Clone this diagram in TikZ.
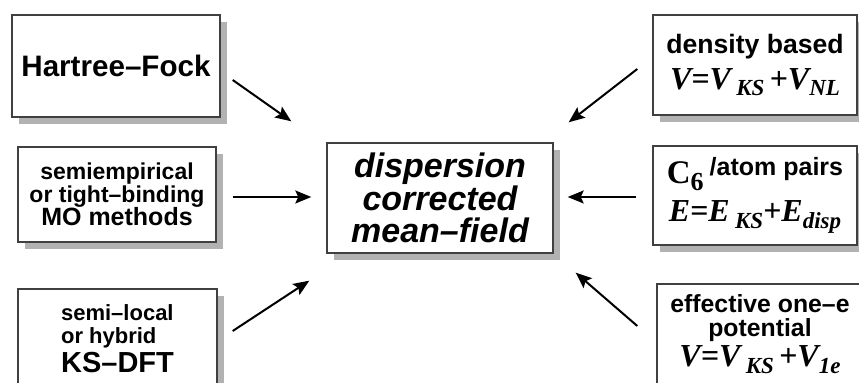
\documentclass[tikz,border=0pt]{standalone}
\usepackage{fontspec}
\setmainfont{Liberation Sans}
\newfontfamily\timesfont{Liberation Serif}
\usetikzlibrary{positioning,arrows.meta,shadows,calc}
\newcommand{\fsz}[2]{\fontsize{#1}{#2}\selectfont}
\newcommand{\lowsub}[1]{\raisebox{-0.45ex}{\fsz{11.5}{11.5}#1}}

\begin{document}
\begin{tikzpicture}[x=0.5pt, y=-0.5pt,
    box/.style={draw=black!75, line width=0.7pt, fill=white, align=center, inner sep=2pt,
      drop shadow={shadow xshift=3.5pt, shadow yshift=-3.5pt, fill=black!30, opacity=1}},
    arr/.style={line width=1pt, -{Stealth[length=8pt, width=6.5pt, inset=1.5pt]}}]
  \useasboundingbox (0,0) rectangle (859,383);
  % left column
  \node[box, minimum width=104pt, minimum height=51pt, font=\bfseries\fsz{14.8}{16}] (hf) at (116,66) {Hartree--Fock};
  \node[box, minimum width=99pt, minimum height=47.5pt, font=\bfseries\fsz{11.5}{11.5}] (semi) at (117,194.5)
    {semiempirical\\or tight--binding\\\fsz{12.5}{11.5}MO methods};
  \node[box, align=left, minimum width=99.5pt, minimum height=50pt, font=\bfseries\fsz{11}{11.5}] (ksdft) at (117.5,339)
    {semi--local\\or hybrid\\[1pt]\fsz{14.5}{12}KS--DFT};
  % centre
  \node[box, minimum width=113pt, minimum height=55pt, font=\bfseries\itshape\fsz{17}{16.2}] (centre) at (440,198)
    {dispersion\\corrected\\mean--field};
  % right column
  \node[box, minimum width=102pt, minimum height=50pt, font=\bfseries\fsz{13.3}{14}] (dens) at (755,65)
    {density based\\[4pt]\timesfont\itshape\fsz{16}{16}V=V\,\lowsub{KS}\,+V\lowsub{NL}};
  \node[box, minimum width=102pt, minimum height=49.5pt, font=\bfseries\fsz{13}{13}] (pair) at (755,195.5)
    {{\timesfont\fsz{16.5}{16}C\lowsub{\fsz{13}{13}6}}\kern3pt\raisebox{0.6ex}{\fsz{12.5}{12}/atom pairs}\\[4pt]\timesfont\itshape\fsz{16}{16}E=E\,\lowsub{KS}+E\lowsub{disp}};
  \node[box, minimum width=103pt, minimum height=50pt, font=\bfseries\fsz{12.4}{12.2}] (eff) at (760,334)
    {effective one--e\\potential\\[1pt]\timesfont\itshape\fsz{16}{15}V=V\,\lowsub{KS}\,+V\lowsub{1e}};
  % arrows
  \draw[arr] ($(hf.east)+(12,14)$) -- ($(centre.north west)+(-35,-21)$);
  \draw[arr] ($(semi.east)+(16,2.5)$) -- ($(centre.west)+(-15,-1)$);
  \draw[arr] ($(ksdft.east)+(15,-8)$) -- ($(centre.south west)+(-17,27)$);
  \draw[arr] ($(dens.west)+(-15,4)$) -- ($(centre.north east)+(15,-20)$);
  \draw[arr] ($(pair.west)+(-16,1.5)$) -- ($(centre.east)+(14,-1)$);
  \draw[arr] ($(eff.west)+(-19,-8)$) -- ($(centre.south east)+(22,19)$);
\end{tikzpicture}
\end{document}
